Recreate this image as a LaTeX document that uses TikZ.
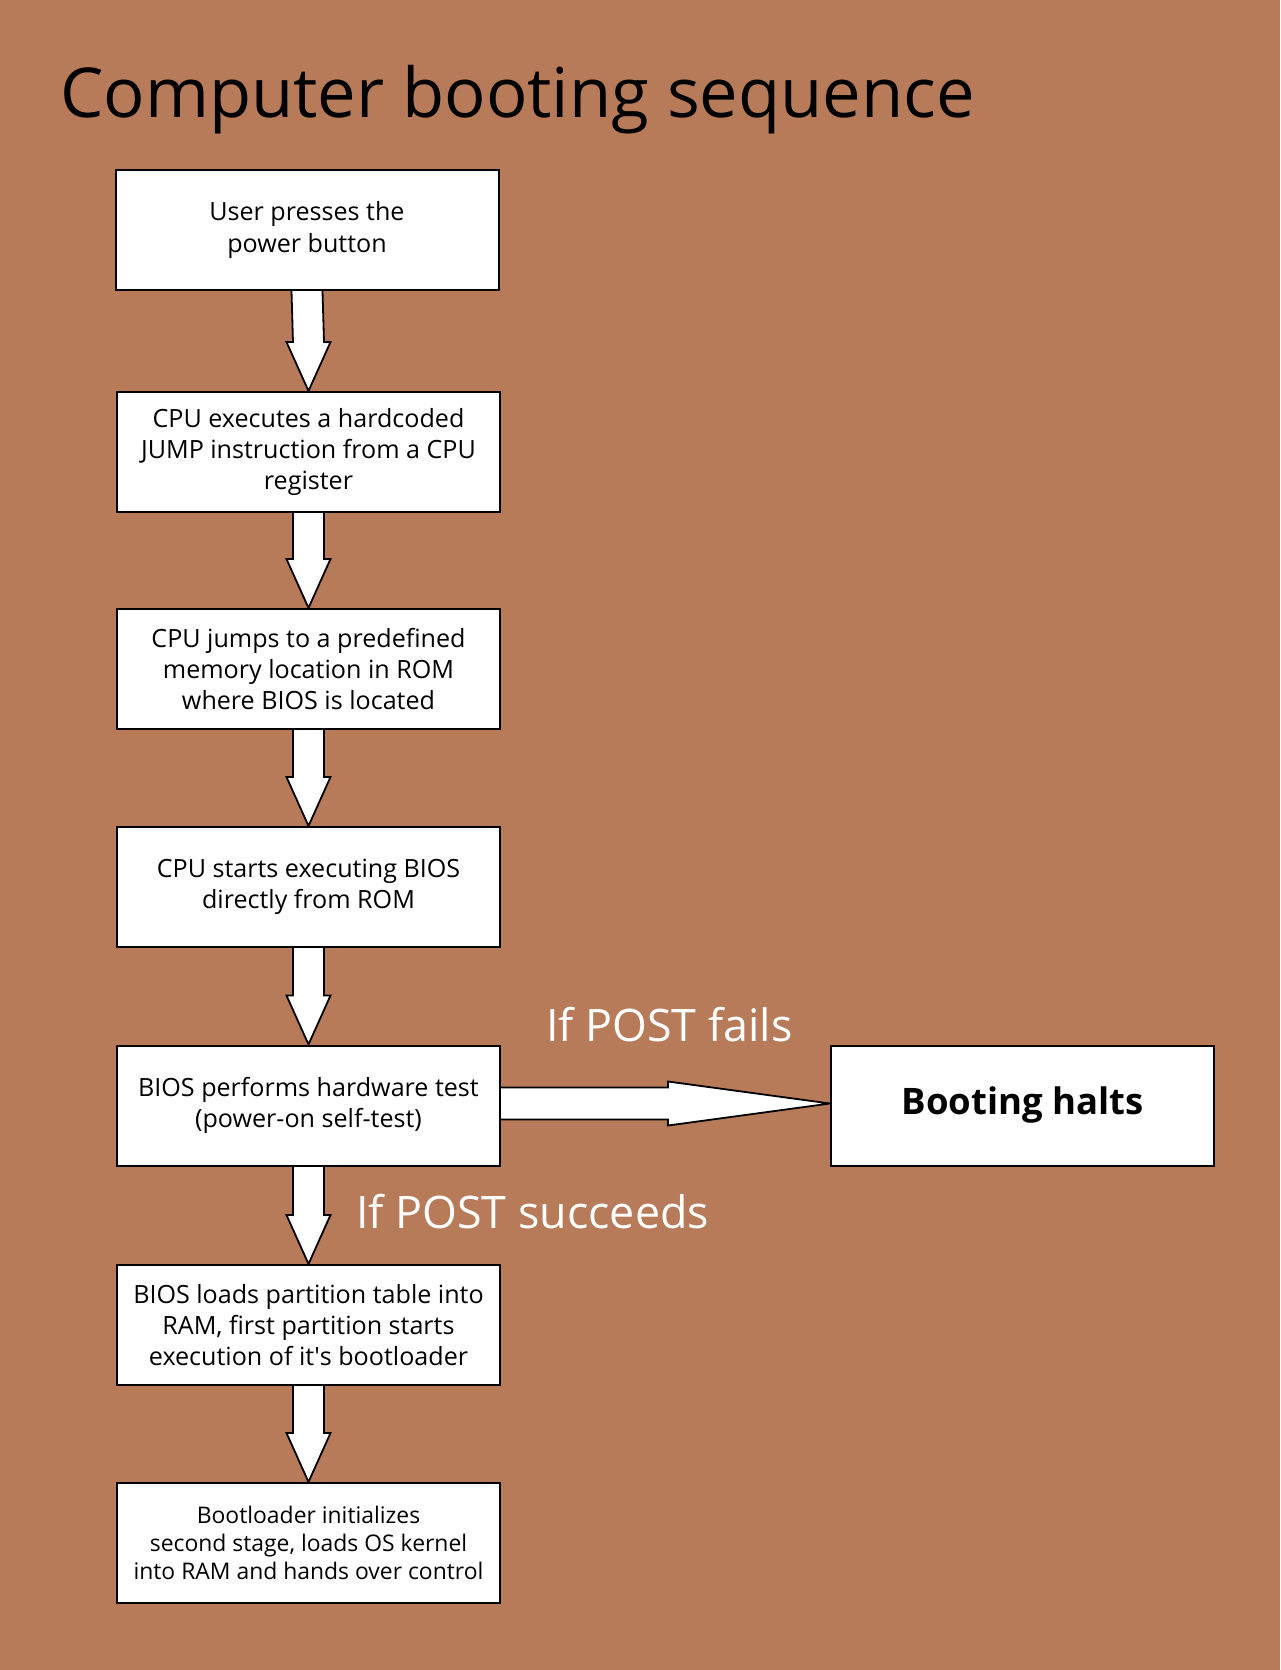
\documentclass[tikz,border=0pt]{standalone}
\usepackage{fontspec}
\setmainfont{Open Sans}
\usetikzlibrary{calc,backgrounds}
\definecolor{bgc}{HTML}{B87B5A}
\newcommand\straightquote{{\XeTeXglyph\XeTeXcharglyph"27\relax}}
\tikzset{
  stepbox/.style={draw=black, line width=2pt, fill=white, minimum width=383pt, minimum height=120pt, align=center, font=\fontsize{25.1}{31.4}\selectfont, inner sep=0pt},
  blk/.style={draw=black, line width=1.8pt, fill=white, line join=miter},
  lbl/.style={text=white, font=\fontsize{44.8}{50}\selectfont, anchor=base west, inner sep=0pt}
}
\newcommand\blkdown[2]{%
  \draw[blk] ($(#1.south)+(-15.5,0)$) -- ($(#2.north)+(-15.5,-49)$) -- ($(#2.north)+(-22,-49)$) -- (#2.north) -- ($(#2.north)+(22,-49)$) -- ($(#2.north)+(15.5,-49)$) -- ($(#1.south)+(15.5,0)$);}
\begin{document}
\begin{tikzpicture}[x=1pt,y=-1pt]
\useasboundingbox (0,0) rectangle (1280,1670);
\node[anchor=base west, inner sep=0pt, font=\fontsize{68.8}{80}\selectfont] (title) at (60,117) {Computer booting sequence};
\node[stepbox] (b1) at (307,230) {User presses the\\power button};
\node[stepbox] (b2) at (308.5,452) {CPU executes a hardcoded\\JUMP instruction from a CPU\\register};
\node[stepbox] (b3) at (308.5,669) {CPU jumps to a predefined\\memory location in ROM\\where BIOS is located};
\node[stepbox] (b4) at (308.5,887) {CPU starts executing BIOS\\directly from ROM};
\node[stepbox] (b5) at (308.5,1105.5) {BIOS performs hardware test\\(power-on self-test)};
\node[stepbox] (b6) at (308.5,1325) {BIOS loads partition table into\\RAM, first partition starts\\execution of it\straightquote s bootloader};
\node[stepbox, font=\fontsize{22.9}{28.3}\selectfont] (b7) at (308.5,1543) {Bootloader initializes\\second stage, loads OS kernel\\into RAM and hands over control};
\node[stepbox, font=\bfseries\fontsize{36.5}{40}\selectfont] (halt) at (1022.5,1105.5) {Booting halts};
\node[lbl] (lfail) at (546,1041) {If POST fails};
\node[lbl] (lsucc) at (356,1228) {If POST succeeds};
\begin{scope}[on background layer]
\fill[bgc] (0,0) rectangle (1280,1670);
\blkdown{b1}{b2}
\blkdown{b2}{b3}
\blkdown{b3}{b4}
\blkdown{b4}{b5}
\blkdown{b5}{b6}
\blkdown{b6}{b7}
\draw[blk] ($(b5.east)+(0,-18)$) -- ($(b5.east)+(167,-18)$) -- ($(b5.east)+(167,-24)$) -- ($(halt.west)+(0,-2)$) -- ($(b5.east)+(167,20)$) -- ($(b5.east)+(167,14)$) -- ($(b5.east)+(0,14)$);
\end{scope}
\end{tikzpicture}
\end{document}
